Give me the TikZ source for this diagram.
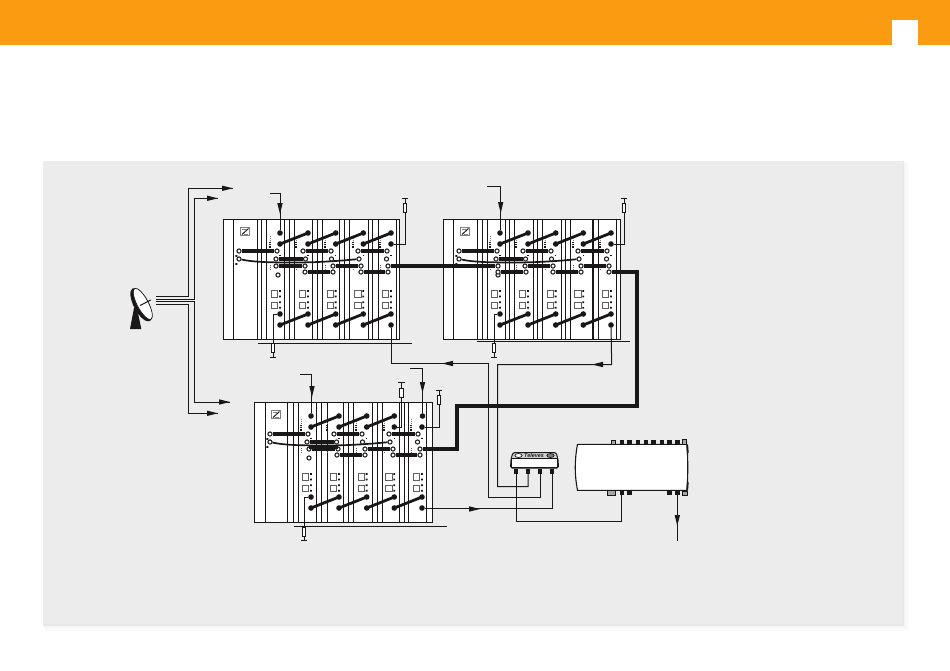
\documentclass[tikz,border=0pt]{standalone}
\usepackage{fontspec}
\setmainfont{Liberation Sans}
\definecolor{ink}{HTML}{1A1718}
\definecolor{headorange}{HTML}{FA9C12}
\definecolor{panelgray}{HTML}{ECECEC}
\tikzset{
  wire/.style={draw=ink,line width=1pt,line join=miter},
  frameline/.style={draw=ink,line width=1pt},
  slopeline/.style={draw=ink,line width=2.8pt},
  barline/.style={draw=ink,line width=3.3pt},
  thinbar/.style={draw=ink,line width=1.7pt},
  trunk/.style={draw=ink,line width=3.2pt,line join=miter},
  blackdot/.style={circle,fill=ink,inner sep=0pt,minimum size=5.6pt},
  opendot/.style={circle,draw=ink,line width=1pt,fill=white,inner sep=0pt,minimum size=4.2pt},
  port/.style={fill=ink,draw=none,inner sep=0pt,minimum width=4.4pt,minimum height=4.8pt},
  grayport/.style={fill=gray!70,draw=ink,line width=0.4pt,inner sep=0pt,minimum width=4.4pt,minimum height=4.4pt},
  termbox/.style={draw=ink,line width=.8pt,fill=white,inner sep=0pt,minimum width=3.4pt,minimum height=9.5pt},
  arrowmark/.pic={\fill[ink] (0pt,0pt)--(-11pt,2.7pt)--(-11pt,-2.7pt)--cycle;}
}
% \modbar{module}{id}{x1}{y1}{x2}{y2}
\newcommand{\modbar}[6]{%
  \node[opendot] (#1-#2a) at (#3,#4) {};
  \node[opendot] (#1-#2b) at (#5,#6) {};
  \draw[barline] (#1-#2a) -- (#1-#2b);
}
\newcommand{\plugbox}[1]{%
  \node[draw=ink!70,line width=0.6pt,fill=white,minimum size=6.2pt,inner sep=0pt] at (#1-5.5,74.7) {};
  \node[draw=ink!70,line width=0.6pt,fill=white,minimum size=6.2pt,inner sep=0pt] at (#1-5.5,86) {};
  \fill[ink] (#1-1,71) rectangle ++(1.9,1.9) (#1-1,76.5) rectangle ++(1.9,1.9)
             (#1-1,82.3) rectangle ++(1.9,1.9) (#1-1,87.8) rectangle ++(1.9,1.9);
  \fill[ink] (#1-.7,35.5) rectangle ++(1.4,1.4);
}
\newcommand{\moduleframe}[6]{% name x y width height verticals
  \begin{scope}[shift={(#2,#3)}]
    \draw[frameline,fill=white] (0,0) rectangle (#4,#5);
    \foreach \v in {#6} {\draw[frameline] (\v,0) -- (\v,#5);}
    \draw[gray,line width=0.8pt,fill=white] (17.5,8.5) rectangle (26.5,16.5);
    \draw[ink,line width=1pt] (19,15.5) -- (25.5,9.5);
    \draw[gray,line width=0.7pt] (19,10) -- (23,10) (21,15) -- (25,15);
    \foreach \c in {57,85,112.7,140.3,168} {\plugbox{\c}}
    \foreach \c in {47,73,102,130,157} {
      \draw[ink,line width=1.5pt,dash pattern=on .9pt off .9pt] (\c,23) -- (\c,30);
      \draw[gray,line width=.7pt,dash pattern=on 1pt off 1pt] (\c,17) -- (\c,23);
      \draw[gray!80!black,line width=.7pt,dash pattern=on 1pt off 1pt] (\c,46) -- (\c,52);
    }
    \fill[ink] (12.4,36) rectangle ++(1.9,1.9) (12.4,44) rectangle ++(1.9,1.9);
    \node[blackdot] (#1-i1) at (57,95) {};
    \node[blackdot] (#1-j1) at (57,106) {};
    \node[blackdot] (#1-i2) at (85,95) {};
    \node[blackdot] (#1-j2) at (85,106) {};
    \node[blackdot] (#1-i3) at (112.7,95) {};
    \node[blackdot] (#1-j3) at (112.7,106) {};
    \node[blackdot] (#1-i4) at (140.3,95) {};
    \node[blackdot] (#1-j4) at (140.3,106) {};
    \node[blackdot] (#1-i5) at (168,95) {};
    \node[blackdot] (#1-j5) at (168,106) {};
    \draw[slopeline] (#1-j1.center) -- (#1-i2.center);
    \draw[slopeline] (#1-j2.center) -- (#1-i3.center);
    \draw[slopeline] (#1-j3.center) -- (#1-i4.center);
    \draw[slopeline] (#1-j4.center) -- (#1-i5.center);
    \node[blackdot] (#1-t1) at (57,14) {};
    \node[blackdot] (#1-u1) at (57,25) {};
    \node[blackdot] (#1-t2) at (85,14) {};
    \node[blackdot] (#1-u2) at (85,25) {};
    \node[blackdot] (#1-t3) at (112.7,14) {};
    \node[blackdot] (#1-u3) at (112.7,25) {};
    \node[blackdot] (#1-u4) at (140.3,25) {};
    \node[blackdot] (#1-u5) at (168,25) {};
    \draw[slopeline] (#1-u1.center) -- (#1-t2.center);
    \draw[slopeline] (#1-u2.center) -- (#1-t3.center);
    \modbar{#1}{a}{16}{32}{54}{32}
    \modbar{#1}{b}{80}{32}{108}{32}
    \modbar{#1}{c}{135}{32}{164}{32}
    \node[opendot] (#1-k1) at (16,40) {};
    \node[opendot] (#1-k2) at (136,40) {};
    \draw[thinbar] (#1-k1) .. controls (30,43) and (45,43.5) .. (70,43.5) .. controls (95,43.5) and (115,42) .. (#1-k2);
    \modbar{#1}{d}{53}{40}{82.5}{40}
    \node[opendot] at (108.5,40) {};
    \node[opendot] at (163.5,40) {};
    \node[opendot] at (55,56) {};
  \end{scope}
}
\newcommand{\termup}[4]{%
  \coordinate (#1-cap) at (#2,#3);
  \draw[wire] ([xshift=-3.2pt]#1-cap) -- ([xshift=3.2pt]#1-cap);
  \coordinate (#1-mid) at (#2,#4);
}
\begin{document}
\begin{tikzpicture}[x=1pt,y=-1pt]
\useasboundingbox (0,0) rectangle (950,670);
\fill[white] (0,0) rectangle (950,670);
\fill[headorange] (0,0) rectangle (950,45);
\fill[white] (892,20) rectangle (918,45);
% panel with soft shadow towards the lower right
\fill[black!2] (45,163) rectangle (909,631);
\fill[black!4] (44,162) rectangle (906,628);
\fill[black!9] (43,161) rectangle (904,626);
\fill[panelgray] (43,161) rectangle (902,624);

% ---------- module 1
\moduleframe{mA}{223}{219}{176}{120}{10,34,38,43,61,66,71,89,94,99,116,121,126,145,149,155,173}
\begin{scope}[shift={(223,219)}]
  \node[blackdot] (mA-t4) at (140.3,14) {};
  \node[blackdot] (mA-t5) at (168,14) {};
  \draw[slopeline] (mA-u3.center) -- (mA-t4.center);
  \draw[slopeline] (mA-u4.center) -- (mA-t5.center);
  \modbar{mA}{e}{53}{47}{82}{47}
  \modbar{mA}{f}{82}{53}{110}{53}
  \modbar{mA}{g}{110}{47}{138}{47}
  \modbar{mA}{h}{138}{53}{165}{53}
  \node[opendot] (mA-out) at (165,47) {};
\end{scope}

% ---------- module 2
\moduleframe{mB}{443}{219}{177.5}{120}{10,34,39,44,62,66,71,90,94,99,118,122,127,150,155,173}
\begin{scope}[shift={(443,219)}]
  \draw[ink,line width=1.5pt] (150,0) -- (150,120);
  \node[blackdot] (mB-t4) at (140.3,14) {};
  \node[blackdot] (mB-t5) at (168,14) {};
  \draw[slopeline] (mB-u3.center) -- (mB-t4.center);
  \draw[slopeline] (mB-u4.center) -- (mB-t5.center);
  \node[opendot] (mB-in) at (55,47) {};
  \modbar{mB}{e}{55}{53}{83}{53}
  \modbar{mB}{f}{82}{47}{110}{47}
  \modbar{mB}{g}{110}{53}{138}{53}
  \modbar{mB}{h}{138}{47}{166}{47}
  \node[opendot] (mB-out) at (166,53) {};
\end{scope}

% ---------- module 3
\moduleframe{mC}{254}{402}{178}{120}{11,33,39,44,62,67,73,89,94,99,118,123,128,145,150,154,172}
\begin{scope}[shift={(254,402)}]
  \node[blackdot] (mC-t5) at (168.5,14) {};
  \node[blackdot] (mC-t4) at (140.3,14) {};
  \draw[slopeline] (mC-u3.center) -- (mC-t4.center);
  \modbar{mC}{e}{55}{47}{84}{47}
  \draw[ink,line width=3.5pt] (55,45.5) -- (84,45.5);
  \modbar{mC}{f}{83}{53}{111}{53}
  \modbar{mC}{g}{111}{47}{139}{47}
  \modbar{mC}{h}{139}{53}{166}{53}
  \node[opendot] (mC-out) at (166,47) {};
\end{scope}

% ---------- rails
\coordinate (railA1) at (258,343); \coordinate (railA2) at (412,343);
\draw[wire] (railA1) -- (railA2);
\coordinate (railB1) at (477,341); \coordinate (railB2) at (630,341);
\draw[wire] (railB1) -- (railB2);
\coordinate (railC1) at (294,526); \coordinate (railC2) at (447,526);
\draw[wire] (railC1) -- (railC2);

% ---------- trunk
\draw[trunk] (mA-out) -- (mB-in);
\coordinate (tr1) at (637,272); \coordinate (tr2) at (637,406);
\coordinate (tr3) at (457,406); \coordinate (tr4) at (457,449);
\draw[trunk] (mB-out) -- (tr1) -- (tr2) -- (tr3) -- (tr4) -- (mC-out);

% ---------- terminators
\termup{tA}{405}{198}{208}
\draw[wire] (mA-u5) -| (tA-cap);
\node[termbox] at (tA-mid) {};
\termup{tB}{624}{198}{208}
\draw[wire] (mB-u5) -| (tB-cap);
\node[termbox] at (tB-mid) {};
\termup{tC}{401.5}{382}{393}
\draw[wire] (mC-u4) -| (tC-cap);
\node[termbox] at (tC-mid) {};
\termup{tD}{439}{390}{400}
\draw[wire] (mC-u5) -| (tD-cap);
\node[termbox] at (tD-mid) {};
\termup{tE}{273}{357}{348}
\draw[wire] (mA-i1) -| (tE-cap);
\node[termbox] at (tE-mid) {};
\termup{tF}{494}{357}{348}
\draw[wire] (mB-i1) -| (tF-cap);
\node[termbox] at (tF-mid) {};
\termup{tG}{304}{540}{532}
\draw[wire] (mC-i1) -| (tG-cap);
\node[termbox] at (tG-mid) {};

% ---------- inputs from above
\coordinate (inA) at (270,193);
\draw[wire] (inA) -| (mA-t1);
\pic[rotate=-90] at (280,214) {arrowmark};
\coordinate (inB) at (487,186);
\draw[wire] (inB) -| (mB-t1);
\pic[rotate=-90] at (500.7,213) {arrowmark};
\coordinate (inC) at (300,374);
\draw[wire] (inC) -| (mC-t1);
\pic[rotate=-90] at (312,397) {arrowmark};
\coordinate (inD) at (410,368);
\draw[wire] (inD) -| (mC-t5);
\pic[rotate=-90] at (422.5,393) {arrowmark};

% ---------- dish
\fill[ink] (130,329) -- (141.3,329) -- (137,308) -- (134,308) -- cycle;
\begin{scope}[shift={(141.3,304.7)},rotate=-62]
  \fill[ink] (0pt,0pt) ellipse [x radius=18.5pt,y radius=7.5pt];
  \draw[ink,line width=.7pt,fill=white] (0pt,1.7pt) ellipse [x radius=17.4pt,y radius=5.6pt];
\end{scope}
\coordinate (dishfeed) at (140,305.5);
\coordinate (dishtip) at (150.7,300);
\draw[ink,line width=1pt] (dishfeed) -- (dishtip);

% ---------- LNB feed lines
\coordinate (lnb1) at (156,296.7);
\coordinate (lnb2) at (156,299.2);
\coordinate (lnb3) at (156,301.7);
\coordinate (lnb4) at (156,304.3);
\coordinate (outA) at (233,188.3);
\coordinate (outB) at (218,198.3);
\coordinate (outC) at (230,402);
\coordinate (outD) at (218,413.3);
\draw[wire] (lnb1) -- (188.3,296.7) |- (outA);
\draw[wire] (lnb2) -- (194,299.2) |- (outB);
\draw[wire] (lnb3) -- (194,301.7) |- (outC);
\draw[wire] (lnb4) -- (188.3,304.3) |- (outD);
\pic at (outA) {arrowmark};
\pic at (outB) {arrowmark};
\pic at (outC) {arrowmark};
\pic at (outD) {arrowmark};

% ---------- multiswitch
\draw[ink,line width=1pt,fill=gray!35,rounded corners=1.5pt]
  (510.5,468) -- (511,459) -- (513,452.5) -- (556,452.5) -- (558,459) -- (558.5,468) -- cycle;
\draw[ink,line width=.5pt,fill=white] (511.5,458.5) rectangle (557.5,467.2);
\draw[ink,line width=.7pt,fill=white] (518.5,455.5) ellipse [x radius=3.6pt,y radius=2pt];
\draw[ink,line width=.7pt,fill=gray] (550.5,455.5) ellipse [x radius=3.6pt,y radius=2pt];
\node[font=\fontsize{5.4}{6}\selectfont\bfseries\itshape,text=ink,inner sep=0pt] (brand) at (534,455.5) {Televes};
\node[port] (swA) at (516,471.5) {};
\node[port] (swB) at (528,471.5) {};
\node[port] (swC) at (540,471.5) {};
\node[port] (swD) at (552,471.5) {};

% ---------- amplifier
\draw[ink,line width=1.1pt,fill=white]
  (577.5,444.3) -- (687,444.3) .. controls (688,460) and (688,475) .. (687,490.3) -- (577.5,490.3)
  .. controls (574.5,475) and (574.5,460) .. cycle;
\draw[ink,line width=1.8pt] (687.2,445) -- (687.8,453) (687.8,482) -- (687.2,490);
\foreach \px in {621.7,629.3,637.7,645.7,653.3,661.7,669.3,677.3} {\node[port] at (\px,442) {};}
\node[grayport] at (613,442) {};
\node[grayport] at (684,441.5) {};
\node[grayport,minimum width=8pt] at (611,492.5) {};
\node[grayport] at (684.5,493) {};
\node[port] (ampIn) at (621.7,492.7) {};
\node[port] at (629.3,492.7) {};
\node[port] at (669.3,492.7) {};
\node[port] (ampOut) at (677.3,492.7) {};

% ---------- signal wiring
\coordinate (wA1) at (391,363.5); \coordinate (wA2) at (488.5,363.5);
\coordinate (wA3) at (488.5,497.5);
\draw[wire] (mA-j5) -- (wA1) -- (wA2) -- (wA3) -| (swC);
\pic[rotate=180] at (442,363.5) {arrowmark};
\coordinate (wB1) at (611.7,364.5); \coordinate (wB2) at (497.5,364.5);
\coordinate (wB3) at (497.5,486.5);
\draw[wire] (mB-j5) -- (wB1) -- (wB2) -- (wB3) -| (swB);
\pic[rotate=180] at (592,364.5) {arrowmark};
\draw[wire] (mC-j5) -| (swD);
\pic at (480,509) {arrowmark};
\coordinate (wC1) at (516,521);
\draw[wire] (swA) -- (wC1) -| (ampIn);
\coordinate (ampEnd) at (677.3,541);
\draw[wire] (ampOut) -- (ampEnd);
\pic[rotate=-90] at (677.3,526) {arrowmark};
\end{tikzpicture}
\end{document}
